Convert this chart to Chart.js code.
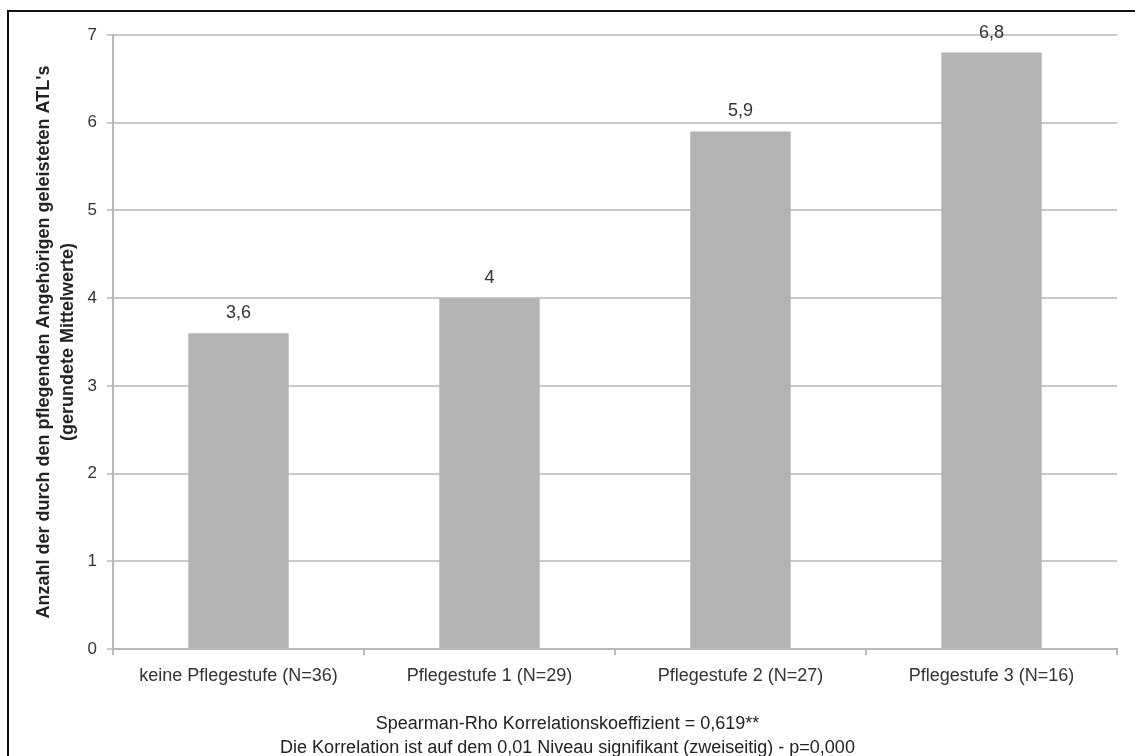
<!DOCTYPE html>
<html>
<head>
<meta charset="utf-8">
<script src="https://cdn.jsdelivr.net/npm/chart.js@4.4.1/dist/chart.umd.min.js"></script>
<style>
  html, body { margin: 0; padding: 0; background: #ffffff; }
  #wrap { width: 1135px; height: 756px; position: relative; }
  canvas { display: block; }
</style>
</head>
<body>
<div id="wrap"><canvas id="chart" width="1135" height="756"></canvas></div>
<script>
// Categories and mean values (rounded means of ATLs performed by caregiving relatives)
const categories = [
  'keine Pflegestufe (N=36)',
  'Pflegestufe 1 (N=29)',
  'Pflegestufe 2 (N=27)',
  'Pflegestufe 3 (N=16)'
];
const meanValues = [3.6, 4, 5.9, 6.8];
const yTitle = [
  "Anzahl der durch den pflegenden Angehörigen geleisteten ATL's",
  '(gerundete Mittelwerte)'
];
const footnote = [
  'Spearman-Rho Korrelationskoeffizient = 0,619**',
  'Die Korrelation ist auf dem 0,01 Niveau signifikant (zweiseitig) - p=0,000'
];

const FONT = "'Liberation Sans', Arial, Helvetica, sans-serif";
const fmt = v => String(v).replace('.', ',');

// Outer frame, value labels above bars and the footnote below the axis
const decorations = {
  id: 'decorations',
  beforeDraw(chart) {
    const ctx = chart.ctx;
    ctx.save();
    ctx.fillStyle = '#ffffff';
    ctx.fillRect(0, 0, chart.width, chart.height);
    ctx.strokeStyle = '#111111';
    ctx.lineWidth = 2;
    ctx.strokeRect(8, 11, chart.width + 20, chart.height + 20);
    ctx.restore();
  },
  afterDatasetsDraw(chart) {
    const ctx = chart.ctx;
    const meta = chart.getDatasetMeta(0);
    ctx.save();
    ctx.font = '18px ' + FONT;
    ctx.fillStyle = '#333333';
    ctx.textAlign = 'center';
    ctx.textBaseline = 'middle';
    meta.data.forEach((bar, i) => {
      ctx.fillText(fmt(meanValues[i]), bar.x, bar.y - 20);
    });
    ctx.font = '18px ' + FONT;
    ctx.fillStyle = '#222222';
    const cx = chart.width / 2;
    ctx.fillText(footnote[0], cx, 724);
    ctx.fillText(footnote[1], cx, 748);
    ctx.restore();
  }
};

new Chart(document.getElementById('chart'), {
  type: 'bar',
  data: {
    labels: categories,
    datasets: [{
      data: meanValues,
      backgroundColor: '#b3b3b3',
      borderWidth: 0,
      categoryPercentage: 1.0,
      barPercentage: 0.4
    }]
  },
  options: {
    responsive: false,
    animation: false,
    events: [],
    layout: { padding: { left: 0, top: 35, right: 18, bottom: 0 } },
    plugins: {
      legend: { display: false },
      tooltip: { enabled: false }
    },
    scales: {
      x: {
        afterFit(scale) { scale.height = 107; },
        grid: {
          drawOnChartArea: false,
          drawTicks: true,
          tickLength: 6,
          color: '#b8b8b8',
          lineWidth: 2,
          offset: true
        },
        border: { color: '#b8b8b8', width: 2 },
        ticks: {
          color: '#333333',
          padding: 10,
          maxRotation: 0,
          font: { family: FONT, size: 18 }
        }
      },
      y: {
        min: 0,
        max: 7,
        afterFit(scale) { scale.width = 113; },
        grid: {
          color: '#c8c8c8',
          lineWidth: 2,
          tickLength: 6,
          drawTicks: true
        },
        border: { color: '#b8b8b8', width: 2 },
        ticks: {
          stepSize: 1,
          color: '#333333',
          padding: 10,
          font: { family: FONT, size: 17 }
        },
        title: {
          display: true,
          text: yTitle,
          color: '#222222',
          font: { family: FONT, size: 18, weight: 'bold', lineHeight: 1.35 },
          padding: { top: 32, bottom: 0 }
        }
      }
    }
  },
  plugins: [decorations]
});
</script>
</body>
</html>
